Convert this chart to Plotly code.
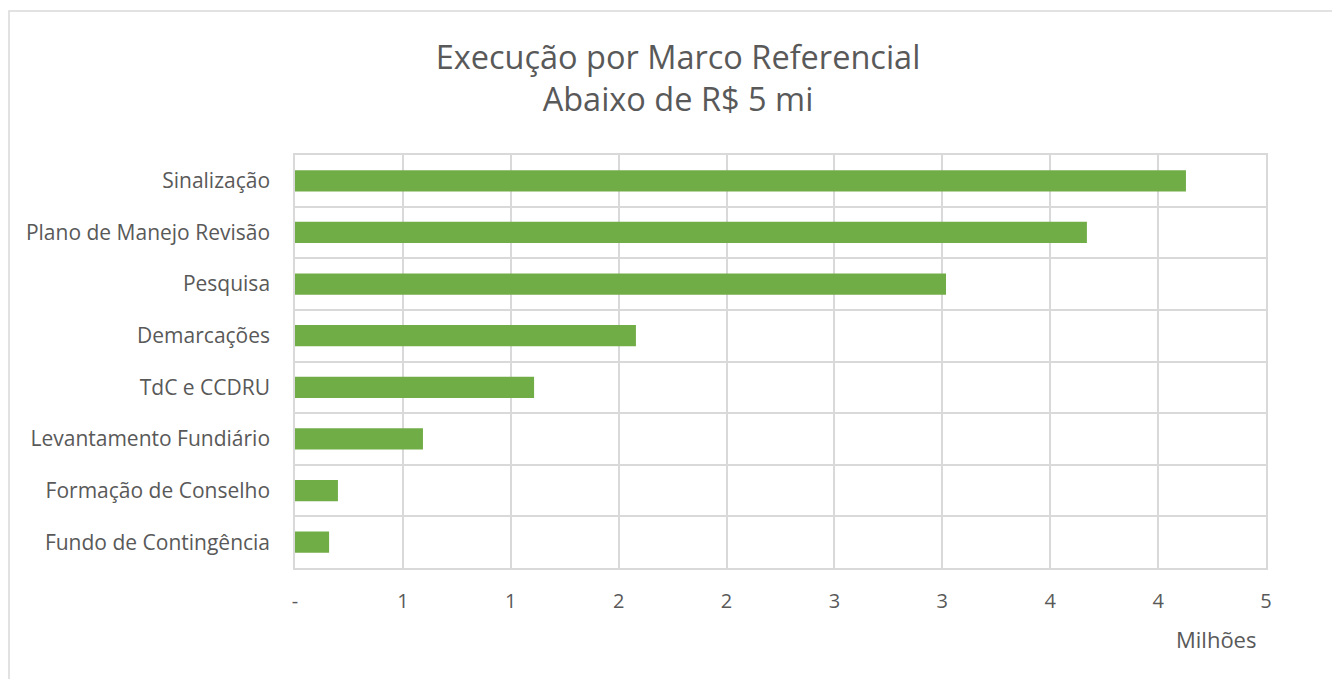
import plotly.graph_objects as go

# categorias (de baixo para cima, como no Excel)
categorias = ['Fundo de Contingência', 'Formação de Conselho', 'Levantamento Fundiário',
              'TdC e CCDRU', 'Demarcações', 'Pesquisa', 'Plano de Manejo Revisão', 'Sinalização']

# execução em milhões de R$
valores = [0.158, 0.199, 0.593, 1.108, 1.580, 3.017, 3.670, 4.129]

# eixo x : ticks a cada 0,5 mi, rótulos arredondados como no Excel
x_ticks = [0, 0.5, 1, 1.5, 2, 2.5, 3, 3.5, 4, 4.5]
x_labels = ['-', '1', '1', '2', '2', '3', '3', '4', '4', '5']

verde = '#70AD47'
cinza_texto = '#595959'
cinza_grade = '#D9D9D9'
fonte = 'Open Sans'

fig = go.Figure(go.Bar(
    x=valores,
    y=list(range(len(categorias))),
    orientation='h',
    width=0.41,
    marker=dict(color=verde, line=dict(width=0)),
    hoverinfo='x',
))

fig.update_layout(
    width=1340, height=679,
    margin=dict(l=287, r=82, t=147, b=119),
    paper_bgcolor='white',
    plot_bgcolor='white',
    showlegend=False,
    title=dict(text='Execução por Marco Referencial<br>Abaixo de R$ 5 mi',
               x=0.5, xanchor='center', y=0.91, yanchor='middle',
               font=dict(family=fonte, size=32.5, color=cinza_texto)),
    font=dict(family=fonte, color=cinza_texto),
)

fig.update_xaxes(
    range=[0, 4.5],
    tickvals=x_ticks, ticktext=x_labels,
    tickfont=dict(size=20, color=cinza_texto),
    showgrid=True, gridcolor=cinza_grade, gridwidth=1.5,
    zeroline=False, showline=True, linecolor=cinza_grade, linewidth=1.5,
    mirror=True, ticks='', ticklabelstandoff=14,
)

fig.update_yaxes(
    range=[-0.5, len(categorias) - 0.5],
    tickvals=list(range(len(categorias))), ticktext=categorias,
    tickfont=dict(size=21, color=cinza_texto),
    showgrid=False, zeroline=False,
    showline=True, linecolor=cinza_grade, linewidth=1.5, mirror=True,
    ticks='', ticklabelstandoff=19,
    minor=dict(tick0=0.5, dtick=1, showgrid=True, gridcolor=cinza_grade, gridwidth=1.5),
)

# unidade de exibição
fig.add_annotation(text='Milhões', xref='paper', yref='paper', x=0.992, y=-0.172,
                   xanchor='right', yanchor='middle', showarrow=False,
                   font=dict(family=fonte, size=22, color=cinza_texto))

# borda da área do gráfico
fig.add_shape(type='rect', xref='paper', yref='paper',
              x0=-286 / 971, x1=1.2, y0=-0.5, y1=1 + 144 / 413,
              line=dict(color=cinza_grade, width=1.5), layer='below')

fig.write_html('out.html')
